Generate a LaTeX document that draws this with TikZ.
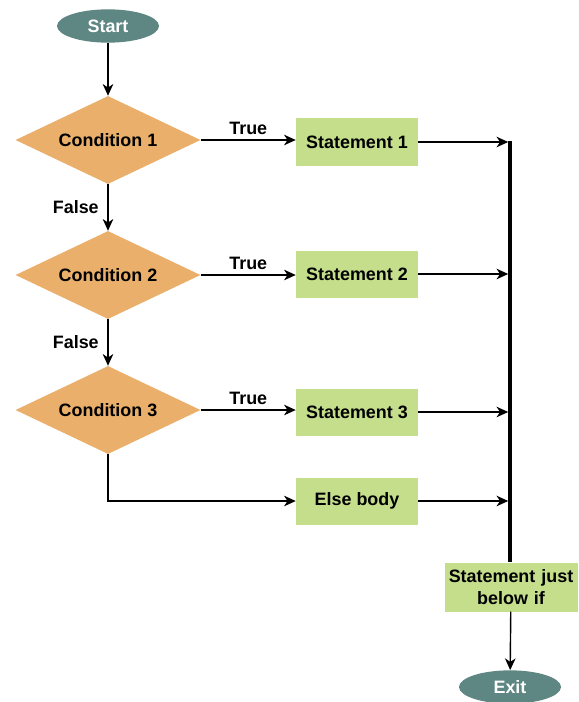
\documentclass[tikz,border=0pt]{standalone}
\usepackage{fontspec}
\setmainfont{Liberation Sans}
\usetikzlibrary{shapes.geometric,arrows.meta}
\definecolor{termcol}{RGB}{94,134,130}
\definecolor{condcol}{RGB}{234,175,106}
\definecolor{stmtcol}{RGB}{196,222,140}
\tikzset{
    every node/.style={font=\bfseries\fontsize{15.3}{18}\selectfont},
    terminal/.style={ellipse,fill=termcol,text=white,minimum width=3.06cm,minimum height=1cm,inner sep=0pt},
    cond/.style={diamond,aspect=2.1,fill=condcol,minimum width=5.55cm,minimum height=2.64cm,inner sep=0pt},
    stmt/.style={rectangle,fill=stmtcol,minimum width=3.66cm,minimum height=1.41cm,inner sep=0pt,align=center},
    arr/.style={line width=1.2pt,-{Stealth[length=10pt,width=9pt,inset=3pt]}},
    joinbar/.style={line width=3pt},
}
\begin{document}
\begin{tikzpicture}[x=0.03cm,y=-0.03cm]
\useasboundingbox (0,0) rectangle (578,702);
\node[terminal] (start) at (108,26) {Start};
\node[cond] (c1) at (108,140) {Condition 1};
\node[cond] (c2) at (108,275) {Condition 2};
\node[cond] (c3) at (108,410) {Condition 3};
\node[stmt] (s1) at (357,142) {Statement 1};
\node[stmt] (s2) at (357,274) {Statement 2};
\node[stmt] (s3) at (357,412) {Statement 3};
\node[stmt] (else) at (357,501) {Else body};
\node[stmt,minimum width=3.99cm,minimum height=1.47cm,text width=3.95cm,font=\bfseries\fontsize{15.3}{19}\selectfont] (below) at (511,587) {Statement just\\below if};
\node[terminal] (exit) at (510,687) {Exit};
\coordinate (bartop) at (510,141);
%\coordinate (barbot) at (510,563);

\draw[arr] (start) -- (c1);
\draw[arr] (c1) -- node[above,yshift=1pt] {True} (c1 -| s1.west);
\draw[arr] (c2) -- node[above,yshift=1pt] {True} (c2 -| s2.west);
\draw[arr] (c3) -- node[above,yshift=1pt] {True} (c3 -| s3.west);
\draw[arr] (c1) -- node[left,xshift=-4pt] {False} (c2);
\draw[arr] (c2) -- node[left,xshift=-4pt] {False} (c3);
\draw[arr] (c3.south) |- (else.west);

\draw[joinbar] (bartop) -- (bartop |- below.north);
\draw[arr,shorten >=1.5pt] (s1.east) -- (s1.east -| bartop);
\draw[arr,shorten >=1.5pt] (s2.east) -- (s2.east -| bartop);
\draw[arr,shorten >=1.5pt] (s3.east) -- (s3.east -| bartop);
\draw[arr,shorten >=1.5pt] (else.east) -- (else.east -| bartop);
\draw[arr] (below) -- (exit);
\end{tikzpicture}
\end{document}
